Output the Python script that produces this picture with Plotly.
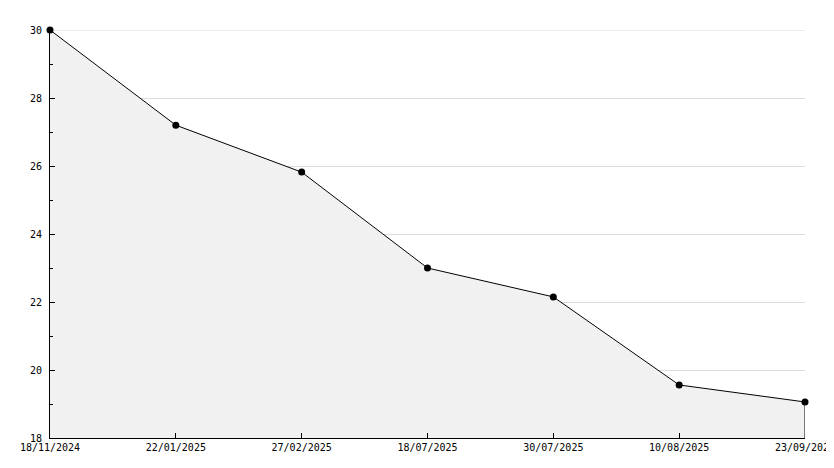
import plotly.graph_objects as go

dates = ["18/11/2024", "22/01/2025", "27/02/2025", "18/07/2025", "30/07/2025", "10/08/2025", "23/09/2025"]
values = [30.0, 27.2, 25.82, 23.0, 22.15, 19.56, 19.06]
y_min, y_max = 18, 30
y_ticks = [18, 20, 22, 24, 26, 28, 30]

fig = go.Figure()
fig.add_trace(go.Scatter(
    x=dates, y=values, mode="lines+markers",
    fill="tozeroy", fillcolor="#f1f1f1",
    line=dict(color="black", width=1),
    marker=dict(symbol="circle", size=7, color="black"),
    cliponaxis=False,
    hoverinfo="x+y", showlegend=False,
))
# right edge of filled area
fig.add_trace(go.Scatter(
    x=[dates[-1], dates[-1]], y=[values[-1], y_min], mode="lines",
    line=dict(color="black", width=1), hoverinfo="skip", showlegend=False,
))

# top gridline (plotly omits grid at range end)
fig.add_shape(type="line", xref="paper", x0=0, x1=1, yref="y", y0=y_max, y1=y_max,
              line=dict(color="#dcdcdc", width=1), layer="below")

font = dict(family="DejaVu Sans Mono", size=10, color="black")
fig.update_layout(
    width=826, height=460,
    margin=dict(l=42, r=29, t=22, b=30),
    paper_bgcolor="white", plot_bgcolor="white",
    font=font,
    xaxis=dict(
        type="category", range=[0, len(dates) - 1],
        automargin=False,
        showgrid=False, zeroline=False,
        showline=True, linecolor="black", linewidth=1,
        ticks="inside", ticklen=5, tickcolor="black",
        tickfont=font,
    ),
    yaxis=dict(
        range=[y_min, y_max], tickvals=y_ticks,
        automargin=False,
        showgrid=True, gridcolor="#dcdcdc", gridwidth=1,
        zeroline=False,
        showline=True, linecolor="black", linewidth=1,
        ticks="inside", ticklen=5, tickcolor="black",
        ticklabelstandoff=5,
        tickfont=font,
        minor=dict(dtick=1, ticks="inside", ticklen=3, tickcolor="black", showgrid=False),
    ),
)
fig.write_html("out.html")
